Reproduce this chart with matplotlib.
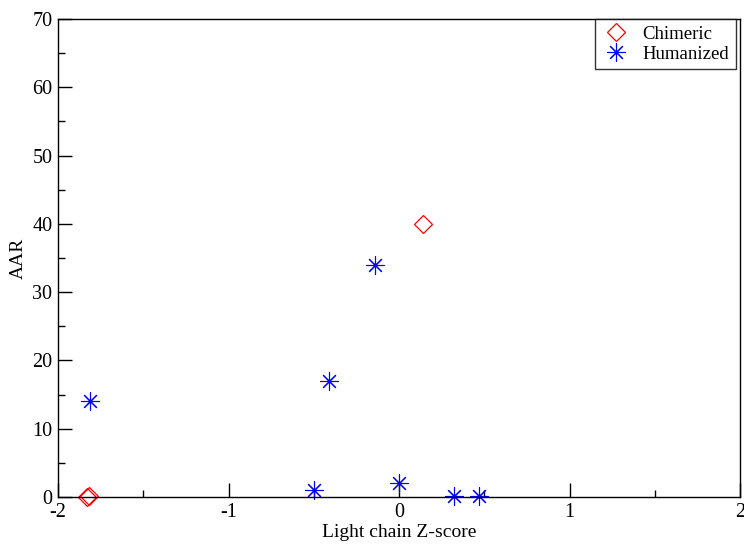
import matplotlib
matplotlib.use("Agg")
import matplotlib.pyplot as plt
from matplotlib.ticker import MultipleLocator

chim_x = [-1.83, -1.82, 0.14]
chim_y = [0.0, 0.1, 40.0]
hum_x = [-1.81, -0.41, -0.14, -0.50, 0.0, 0.32, 0.47]
hum_y = [14.0, 17.0, 34.0, 1.0, 2.0, 0.1, 0.1]

plt.rcParams['font.family'] = ['Liberation Serif', 'DejaVu Serif']
plt.rcParams['axes.unicode_minus'] = False

fig = plt.figure(figsize=(7.44, 5.45), dpi=100)
ax = fig.add_axes([58/744, 1-497/545, (740-58)/744, (497-19)/545])

ax.plot(chim_x, chim_y, linestyle='none', marker='D', markersize=9.5,
        markerfacecolor='none', markeredgecolor='#ff0000', markeredgewidth=0.9,
        label='Chimeric', clip_on=False)
ax.plot(hum_x, hum_y, linestyle='none', marker=(8, 2, 0), markersize=13,
        color='#0000ff', markeredgewidth=0.8, label='Humanized', clip_on=False)

ax.set_xlim(-2, 2)
ax.set_ylim(0, 70)
ax.xaxis.set_major_locator(MultipleLocator(1))
ax.xaxis.set_minor_locator(MultipleLocator(0.5))
ax.yaxis.set_major_locator(MultipleLocator(10))
ax.yaxis.set_minor_locator(MultipleLocator(5))
ax.tick_params(which='both', direction='in', top=False, right=False, labelsize=14.5, width=1.0)
ax.tick_params(which='major', length=10)
ax.tick_params(which='minor', length=5)
ax.tick_params(axis='x', pad=4)
ax.tick_params(axis='y', pad=4)
for s in ax.spines.values():
    s.set_linewidth(1.0)

ax.set_xlabel('Light chain Z-score', fontsize=14, labelpad=2)
ax.set_ylabel('AAR', fontsize=14, labelpad=4)

leg = ax.legend(loc='upper right', fontsize=13.5, frameon=True, fancybox=False,
                borderpad=0.35, handletextpad=0.6, labelspacing=0.15,
                borderaxespad=0.0, bbox_to_anchor=(0.994, 1.0), handlelength=1.6)
leg.get_frame().set_edgecolor('black')
leg.get_frame().set_linewidth(1.0)

fig.savefig('out.png', dpi=100)
